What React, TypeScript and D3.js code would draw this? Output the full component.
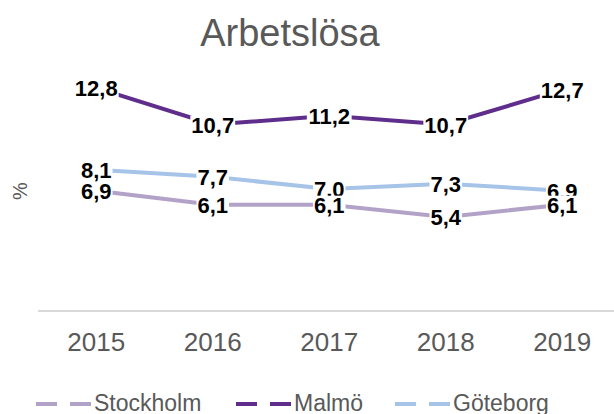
import React from 'react';
import * as d3 from 'd3';

const years = ['2015', '2016', '2017', '2018', '2019'];
const stockholm = [6.9, 6.1, 6.1, 5.4, 6.1];
const malmo = [12.8, 10.7, 11.2, 10.7, 12.7];
const goteborg = [8.1, 7.7, 7.0, 7.3, 6.9];

const seriesNames = ['Stockholm', 'Malmö', 'Göteborg'];
const seriesColors = ['#b3a2c7', '#5f2e8c', '#a6c3e8'];
const seriesValues = [stockholm, malmo, goteborg];

// label draw order: Göteborg first so Stockholm labels sit on top
const labelOrder = [2, 1, 0];

const W = 614;
const H = 414;

const fmt = (v: number) => v.toFixed(1).replace('.', ',');
// rough Arial bold widths
const textWidth = (s: string, size: number) =>
  s.split('').reduce((a, c) => a + (c === ',' ? 0.278 : 0.556), 0) * size;

export default function App() {
  const x = d3.scaleBand().domain(years).range([38, 620.5]);
  const y = d3.scaleLinear().domain([0, 14]).range([311, 67]);
  const cx = (yr: string) => (x(yr) as number) + x.bandwidth() / 2;

  const line = d3
    .line<number>()
    .x((_, i) => cx(years[i]))
    .y((d) => y(d));

  const labelSize = 22;
  const legendX = [36, 236, 395];

  return (
    <svg
      width={W}
      height={H}
      style={{ position: 'absolute', left: 0, top: 0, background: '#fff' }}
      fontFamily="'Liberation Sans', Arial, sans-serif"
    >
      <text x={290} y={46} textAnchor="middle" fontSize={38} fill="#595959">
        Arbetslösa
      </text>

      <text
        transform="translate(27,191) rotate(-90)"
        textAnchor="middle"
        fontSize={20}
        fill="#595959"
      >
        %
      </text>

      <line x1={38} x2={W} y1={311} y2={311} stroke="#d9d9d9" strokeWidth={2} />

      {years.map((yr) => (
        <text key={yr} x={cx(yr)} y={351} textAnchor="middle" fontSize={26} fill="#595959">
          {yr}
        </text>
      ))}

      {seriesValues.map((vals, si) => (
        <path
          key={seriesNames[si]}
          d={line(vals) || ''}
          fill="none"
          stroke={seriesColors[si]}
          strokeWidth={4}
        />
      ))}

      {labelOrder.map((si) => (
        <g key={'lab' + si}>
          {seriesValues[si].map((v, i) => {
            const s = fmt(v);
            const w = textWidth(s, labelSize);
            const px = cx(years[i]);
            const py = y(v);
            return (
              <g key={i}>
                <rect x={px - w / 2 - 1} y={py - 9} width={w + 2} height={20} fill="#fff" />
                <text
                  x={px}
                  y={py + 8}
                  textAnchor="middle"
                  fontSize={labelSize}
                  fontWeight="bold"
                  fill="#000"
                >
                  {s}
                </text>
              </g>
            );
          })}
        </g>
      ))}

      {seriesNames.map((name, si) => (
        <g key={name} transform={`translate(${legendX[si]},0)`}>
          <line x1={0} x2={21} y1={404} y2={404} stroke={seriesColors[si]} strokeWidth={4} />
          <line x1={34} x2={55} y1={404} y2={404} stroke={seriesColors[si]} strokeWidth={4} />
          <text x={58} y={411} fontSize={23} fill="#595959">
            {name}
          </text>
        </g>
      ))}
    </svg>
  );
}
